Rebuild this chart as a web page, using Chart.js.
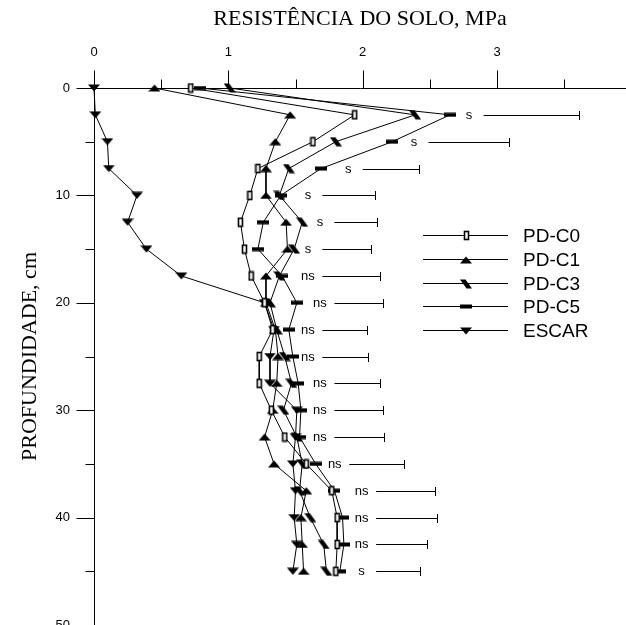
<!DOCTYPE html>
<html>
<head>
<meta charset="utf-8">
<script src="https://cdn.jsdelivr.net/npm/chart.js@4.4.1/dist/chart.umd.min.js"></script>
<style>
  html, body { margin: 0; padding: 0; background: #fff; }
  #wrap { width: 626px; height: 625px; }
</style>
</head>
<body>
<div id="wrap"><canvas id="chart" width="626" height="625"></canvas></div>
<script>
// ---- Data ------------------------------------------------------------------
const depths = [0, 2.5, 5, 7.5, 10, 12.5, 15, 17.5, 20, 22.5, 25, 27.5, 30, 32.5, 35, 37.5, 40, 42.5, 45];

const pdC0  = [0.72, 1.94, 1.63, 1.22, 1.16, 1.09, 1.12, 1.17, 1.27, 1.33, 1.23, 1.23, 1.32, 1.42, 1.58, 1.77, 1.81, 1.81, 1.80];
const pdC1  = [0.45, 1.46, 1.35, 1.28, 1.28, 1.43, 1.44, 1.28, 1.28, 1.35, 1.37, 1.36, 1.33, 1.27, 1.34, 1.58, 1.54, 1.55, 1.56];
const pdC3  = [1.01, 2.39, 1.80, 1.45, 1.38, 1.55, 1.49, 1.38, 1.31, 1.36, 1.42, 1.47, 1.41, 1.51, 1.55, 1.53, 1.61, 1.71, 1.73];
const pdC5  = [0.79, 2.65, 2.22, 1.69, 1.39, 1.26, 1.22, 1.40, 1.51, 1.45, 1.48, 1.52, 1.54, 1.53, 1.65, 1.79, 1.85, 1.86, 1.83];
const escar = [0.00, 0.01, 0.10, 0.11, 0.32, 0.25, 0.39, 0.65, 1.27, 1.34, 1.31, 1.31, 1.51, 1.50, 1.48, 1.50, 1.49, 1.51, 1.48];

// significance + LSD bar (start / end in MPa) per depth
const sigLabels = ['', 's', 's', 's', 's', 's', 's', 'ns', 'ns', 'ns', 'ns', 'ns', 'ns', 'ns', 'ns', 'ns', 'ns', 'ns', 's'];
const lsdStart  = [null, 2.90, 2.49, 2.00, 1.70, 1.79, 1.70, 1.70, 1.79, 1.70, 1.70, 1.79, 1.79, 1.79, 1.90, 2.10, 2.10, 2.10, 2.10];
const lsdEnd    = [null, 3.61, 3.09, 2.42, 2.09, 2.11, 2.06, 2.13, 2.15, 2.03, 2.04, 2.13, 2.15, 2.16, 2.31, 2.54, 2.55, 2.48, 2.43];

const seriesNames = ['PD-C0', 'PD-C1', 'PD-C3', 'PD-C5', 'ESCAR'];

const xTickLabels = [0, 1, 2, 3];
const xMinorTicks = [0.5, 1.5, 2.5, 3.5];
const yTickLabels = [0, 10, 20, 30, 40, 50];
const yMinorTicks = [5, 15, 25, 35, 45];

// ---- Marker glyphs ---------------------------------------------------------
function glyph(w, h, draw) {
    const c = document.createElement('canvas');
    c.width = w; c.height = h;
    const g = c.getContext('2d');
    g.fillStyle = '#000'; g.strokeStyle = '#000';
    draw(g);
    return c;
}
function poly(g, pts) {
    g.beginPath();
    pts.forEach(([px, py], i) => i ? g.lineTo(px, py) : g.moveTo(px, py));
    g.closePath();
    g.fill();
}
const mkBox = glyph(7, 11, (g) => {
    g.fillStyle = '#fff'; g.fillRect(1, 1, 5, 9);
    g.lineWidth = 1.6; g.strokeRect(1.5, 1.5, 4, 8);
});
const mkTriUp   = glyph(12, 8, (g) => poly(g, [[0, 7.5], [6, 0.5], [12, 7.5]]));
const mkSlant   = glyph(12, 10, (g) => poly(g, [[0, 0.5], [5.5, 0.5], [12, 9.5], [6.5, 9.5]]));
const mkDash    = glyph(12, 5, (g) => g.fillRect(0, 0.5, 12, 4));
const mkTriDown = glyph(12, 8, (g) => poly(g, [[0, 0.5], [12, 0.5], [6, 7.5]]));

const markers = [mkBox, mkTriUp, mkSlant, mkDash, mkTriDown];
const values  = [pdC0, pdC1, pdC3, pdC5, escar];

const datasets = values.map((arr, k) => ({
    label: seriesNames[k],
    data: depths.map((d, i) => ({ x: arr[i], y: d })),
    showLine: true,
    borderColor: '#000',
    borderWidth: 1,
    pointStyle: markers[k],
    pointRadius: 5,
    clip: false,
}));

const SANS  = "'Liberation Sans', Arial, sans-serif";
const SERIF = "'Liberation Serif', 'Times New Roman', serif";

// ---- Ticks, LSD bars and legend drawn on top ------------------------------
const decor = {
    id: 'decor',
    afterDraw(chart) {
        const { ctx, chartArea: area, scales: { x, y } } = chart;
        const snap = (v) => Math.round(v) + 0.5;
        ctx.save();
        ctx.strokeStyle = '#000';
        ctx.lineWidth = 1;

        // x ticks go up from the top axis line
        const ax = snap(area.top);
        ctx.beginPath();
        xTickLabels.forEach((v) => { const p = snap(x.getPixelForValue(v)); ctx.moveTo(p, ax); ctx.lineTo(p, ax - 18); });
        xMinorTicks.forEach((v) => { const p = snap(x.getPixelForValue(v)); ctx.moveTo(p, ax); ctx.lineTo(p, ax - 9); });
        // y ticks go left from the axis line
        const ay = snap(area.left);
        yTickLabels.forEach((v) => { const p = snap(y.getPixelForValue(v)); ctx.moveTo(ay, p); ctx.lineTo(ay - 18, p); });
        yMinorTicks.forEach((v) => { const p = snap(y.getPixelForValue(v)); ctx.moveTo(ay, p); ctx.lineTo(ay - 9, p); });
        ctx.stroke();

        // significance labels + LSD bars
        ctx.font = '13px ' + SANS;
        ctx.fillStyle = '#000';
        ctx.textAlign = 'center';
        ctx.textBaseline = 'middle';
        depths.forEach((d, i) => {
            if (!sigLabels[i]) return;
            const py = snap(y.getPixelForValue(d));
            const x0 = x.getPixelForValue(lsdStart[i]);
            const x1 = snap(x.getPixelForValue(lsdEnd[i]));
            ctx.fillText(sigLabels[i], x0 - 14.5, py);
            ctx.beginPath();
            ctx.moveTo(x0, py); ctx.lineTo(x1, py);
            ctx.moveTo(x1, py - 4.5); ctx.lineTo(x1, py + 4.5);
            ctx.stroke();
        });

        // legend
        const lx0 = 423, lx1 = 508, lm = 466, ltx = 523, ly0 = 235, lstep = 23.8;
        ctx.font = '19px ' + SANS;
        ctx.textAlign = 'left';
        chart.data.datasets.forEach((ds, k) => {
            const py = snap(ly0 + k * lstep);
            ctx.beginPath();
            ctx.moveTo(lx0, py); ctx.lineTo(lx1, py);
            ctx.stroke();
            const m = ds.pointStyle;
            ctx.drawImage(m, Math.round(lm - m.width / 2), Math.round(py - m.height / 2));
            ctx.fillText(ds.label, ltx, py + 1);
        });
        ctx.restore();
    },
};

new Chart(document.getElementById('chart'), {
    type: 'scatter',
    data: { datasets },
    options: {
        responsive: false,
        animation: false,
        events: [],
        layout: { padding: 0, autoPadding: false },
        plugins: { legend: { display: false }, tooltip: { enabled: false } },
        scales: {
            x: {
                type: 'linear',
                position: 'top',
                min: 0,
                max: 3.96,
                afterBuildTicks: (s) => { s.ticks = xTickLabels.map((v) => ({ value: v })); },
                afterFit: (s) => { s.height = 88; s.paddingLeft = 0; s.paddingRight = 0; },
                ticks: { autoSkip: false, maxRotation: 0, padding: 28, color: '#000',
                         font: { family: SANS, size: 13 } },
                grid: { drawOnChartArea: false, drawTicks: false },
                border: { color: '#000', width: 1 },
                title: { display: true, text: 'RESISTÊNCIA DO SOLO, MPa', color: '#000',
                         font: { family: SERIF, size: 22 }, padding: { top: 6, bottom: 0 } },
            },
            y: {
                type: 'linear',
                position: 'left',
                reverse: true,
                min: 0,
                max: 50,
                afterBuildTicks: (s) => { s.ticks = yTickLabels.map((v) => ({ value: v })); },
                afterFit: (s) => { s.width = 94; s.paddingTop = 0; s.paddingBottom = 0; },
                ticks: { autoSkip: false, padding: 24, color: '#000',
                         font: { family: SANS, size: 13 } },
                grid: { drawOnChartArea: false, drawTicks: false },
                border: { color: '#000', width: 1 },
                title: { display: true, text: 'PROFUNDIDADE, cm', color: '#000',
                         font: { family: SERIF, size: 22 }, padding: { top: 17, bottom: 0 } },
            },
        },
    },
    plugins: [decor],
});
</script>
</body>
</html>
